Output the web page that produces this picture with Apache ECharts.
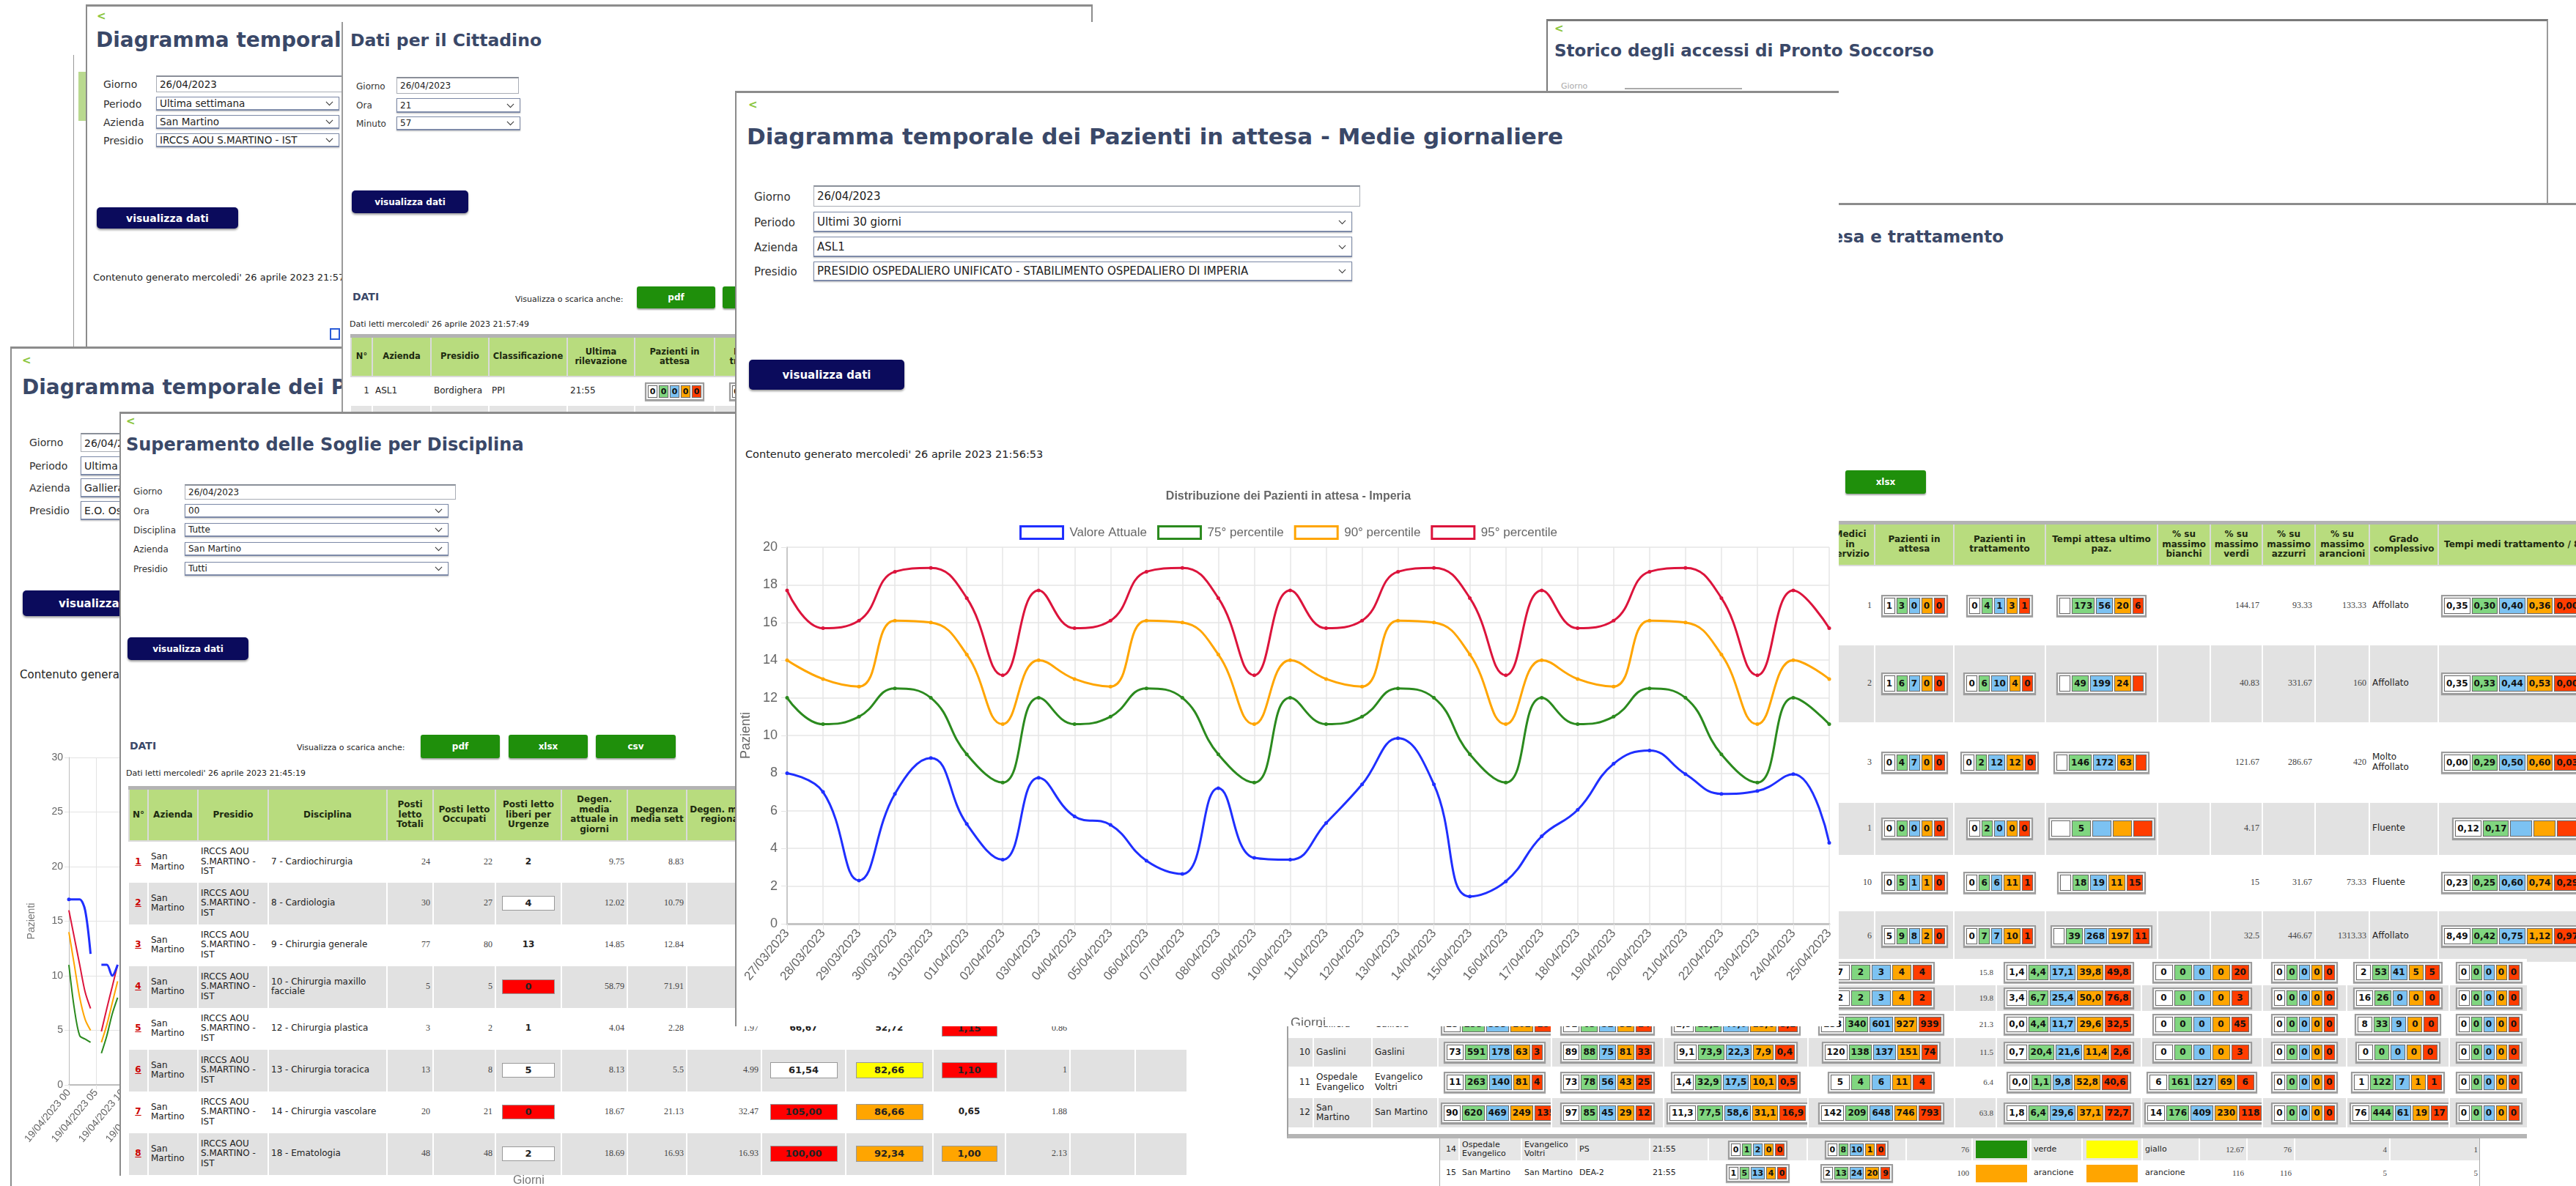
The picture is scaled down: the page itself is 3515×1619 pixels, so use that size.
<!DOCTYPE html>
<html lang="it">
<head>
<meta charset="utf-8">
<title>Diagramma temporale dei Pazienti in attesa</title>
<script src="https://cdn.jsdelivr.net/npm/echarts@6.0.0/dist/echarts.min.js"></script>
<style>
html, body { margin: 0; padding: 0; }
body { width: 3515px; height: 1619px; overflow: hidden; background: #fff; position: relative;
       font-family: "DejaVu Sans", sans-serif; color: #222; }
.pn { position: absolute; background: #fff; box-sizing: border-box; overflow: hidden; }
.ab { position: absolute; white-space: nowrap; }
.ttl { font-weight: bold; color: #3a4868; font-family: "DejaVu Sans", sans-serif; }
.back { color: #8cc63f; font-weight: bold; font-size: 15px; }
.inp { position: absolute; box-sizing: border-box; border: 1px solid #a9adb5; border-top: 2px solid #8a8f99;
       background: #fff; padding-left: 4px; display: flex; align-items: center; white-space: nowrap; overflow: hidden; }
.sel { border: 1px solid #7d8aa8; border-bottom: 2px solid #7d8aa8; box-shadow: 0 1px 2px rgba(0,0,0,.25); }
.chev { position: absolute; right: 9px; top: 50%; width: 6px; height: 6px; border-right: 1.5px solid #333;
        border-bottom: 1.5px solid #333; transform: translateY(-75%) rotate(45deg); }
.btn { position: absolute; box-sizing: border-box; background: #0b0b5c; color: #fff; font-weight: bold; border-radius: 5px;
       display: flex; align-items: center; justify-content: center; box-shadow: 0 2px 3px rgba(0,0,0,.4); white-space: nowrap; }
.gbtn { position: absolute; box-sizing: border-box; background: #1f8f0b; color: #fff; font-weight: bold; border-radius: 3px;
        display: flex; align-items: center; justify-content: center; box-shadow: 0 2px 2px rgba(0,0,0,.35); }
table.tb { position: absolute; border-collapse: collapse; table-layout: fixed; }
table.tb td { padding: 0 3px; overflow: hidden; vertical-align: middle; border-right: 2px solid #fff; line-height: 1.12; }
table.tb td.th { background: #b8dc7e; font-weight: bold; color: #1d2a10; text-align: center; border: 2px solid #dadada; }
table.hd { border-top: 5px solid #b3b3b3; }
.num { font-family: "Liberation Serif", serif; color: #444; }
.grp { display: inline-flex; border: 2px solid #9c9c9c; padding: 2px; background: #f2f2f2; gap: 2px; vertical-align: middle;
       box-shadow: 0 1px 1px rgba(0,0,0,.3); }
.grp span { border: 1px solid #6b6b6b; padding: 0 2px; min-width: 9px; text-align: center; font-weight: bold; color: #111; }
.bx { display: inline-block; border: 1px solid #999; font-weight: bold; text-align: center; vertical-align: middle; }
.rn { color: #c00; font-weight: bold; text-decoration: underline; }
.tB { font-size: 12px; }
.tB td.th { font-size: 11.5px; }
.tB .grp span { font-size: 11px; line-height: 15px; padding: 0 1px; }
.tD { font-size: 12px; }
.tD .num { font-size: 12px; }
.tD .bx { font-size: 13px; }
.tG { font-size: 12px; }
.tG .grp span { font-size: 12px; line-height: 20px; }
.tG .num { font-size: 12px; }
.tH { font-size: 12px; }
.tH .grp span { font-size: 12px; line-height: 19px; }
.tH .num { font-size: 11px; }
.tI { font-size: 11px; }
.tI .grp span { font-size: 11px; line-height: 15px; padding: 0 1px; }
.tI .num { font-size: 11px; }
</style>
</head>
<body>
<script>
// ---------- chart data (main chart) ----------
const chartTitle = 'Distribuzione dei Pazienti in attesa - Imperia';
const seriesNames = ['Valore Attuale', '75° percentile', '90° percentile', '95° percentile'];
const seriesColors = ['#1f2fff', '#2b8a1e', '#ffa500', '#dc143c'];
const dates = ['27/03/2023', '28/03/2023', '29/03/2023', '30/03/2023', '31/03/2023', '01/04/2023', '02/04/2023',
  '03/04/2023', '04/04/2023', '05/04/2023', '06/04/2023', '07/04/2023', '08/04/2023', '09/04/2023', '10/04/2023',
  '11/04/2023', '12/04/2023', '13/04/2023', '14/04/2023', '15/04/2023', '16/04/2023', '17/04/2023', '18/04/2023',
  '19/04/2023', '20/04/2023', '21/04/2023', '22/04/2023', '23/04/2023', '24/04/2023', '25/04/2023'];
const valoreAttuale = [8.0, 7.0, 2.3, 6.9, 8.8, 5.3, 3.4, 7.75, 5.7, 5.25, 3.35, 2.65, 7.2, 3.5, 3.4,
  5.35, 7.4, 9.85, 7.4, 1.45, 2.25, 4.65, 6.05, 8.5, 9.2, 7.95, 6.9, 7.05, 7.95, 4.3];
const perc75 = [12.0, 10.6, 11.0, 12.5, 12.0, 9.0, 7.5, 12.0, 10.6, 11.0, 12.5, 12.0, 9.0, 7.5, 12.0,
  10.6, 11.0, 12.5, 12.0, 9.0, 7.5, 12.0, 10.6, 11.0, 12.5, 12.0, 9.0, 7.5, 12.0, 10.6];
const perc90 = [14.0, 13.0, 12.6, 16.1, 16.0, 14.3, 10.6, 14.0, 13.0, 12.6, 16.1, 16.0, 14.3, 10.6, 14.0,
  13.0, 12.6, 16.1, 16.0, 14.3, 10.6, 14.0, 13.0, 12.6, 16.1, 16.0, 14.3, 10.6, 14.0, 13.0];
const perc95 = [17.7, 15.7, 16.1, 18.7, 18.9, 17.3, 13.2, 17.7, 15.7, 16.1, 18.7, 18.9, 17.3, 13.2, 17.7,
  15.7, 16.1, 18.7, 18.9, 17.3, 13.2, 17.7, 15.7, 16.1, 18.7, 18.9, 17.3, 13.2, 17.7, 15.7];

// ---------- chart data (small chart, left panel) ----------
const oreLabels = ['19/04/2023 00', '19/04/2023 01', '19/04/2023 02', '19/04/2023 03', '19/04/2023 04', '19/04/2023 05',
  '19/04/2023 06', '19/04/2023 07', '19/04/2023 08', '19/04/2023 09', '19/04/2023 10', '19/04/2023 11',
  '19/04/2023 12', '19/04/2023 13', '19/04/2023 14', '19/04/2023 15', '19/04/2023 16', '19/04/2023 17',
  '19/04/2023 18', '19/04/2023 19', '19/04/2023 20', '19/04/2023 21', '19/04/2023 22', '19/04/2023 23'];
const galAttuale = [17, 17, 17, 16, 12, null, 11, 11, 10, 11];
const gal75 = [11, 7, 4.5, 4.2, 3.9, null, 2.9, 4.5, 6.5, 8];
const gal90 = [14, 11, 8, 6, 5, null, 3.9, 5.5, 7.5, 9.5];
const gal95 = [16, 13.5, 11, 8.5, 7, null, 4.9, 7, 9, 11];

// ---------- helpers ----------
const root = document.body; root._x = 0; root._y = 0;

function pnl(x, y, w, h, z, bl, bt, css) {
  const e = document.createElement('div');
  e.className = 'pn';
  Object.assign(e.style, {left: x + 'px', top: y + 'px', width: w + 'px', height: h + 'px', zIndex: z}, css || {});
  e._x = x + bl; e._y = y + bt;
  document.body.appendChild(e);
  return e;
}
function mk(p, cls, x, y, w, h, html, css) {
  const e = document.createElement('div');
  e.className = cls;
  e.style.position = 'absolute';
  e.style.left = (x - p._x) + 'px';
  e.style.top = (y - p._y) + 'px';
  if (w != null) e.style.width = w + 'px';
  if (h != null) e.style.height = h + 'px';
  if (html != null) e.innerHTML = html;
  if (css) Object.assign(e.style, css);
  p.appendChild(e);
  return e;
}
function txt(p, x, yc, s, css) {
  return mk(p, 'ab', x, yc, null, null, s, Object.assign({transform: 'translateY(-50%)'}, css || {}));
}
function ttl(p, x, yc, s, fs) { const e = txt(p, x, yc, s, {fontSize: fs + 'px'}); e.classList.add('ttl'); return e; }
function back(p, x, yc) { const e = txt(p, x, yc, '&lt;'); e.classList.add('back'); return e; }
function inp(p, x1, x2, y1, y2, val, sel, fs) {
  return mk(p, 'inp' + (sel ? ' sel' : ''), x1, y1, x2 - x1, y2 - y1, val + (sel ? '<span class="chev"></span>' : ''), {fontSize: fs + 'px'});
}
function btn(p, x1, x2, y1, y2, s, fs, cls) { return mk(p, cls || 'btn', x1, y1, x2 - x1, y2 - y1, s, {fontSize: fs + 'px'}); }
function table(p, x, y, widths, heights, rows, o) {
  const t = document.createElement('table');
  t.className = 'tb ' + (o.cls || '');
  t.style.left = (x - p._x) + 'px';
  t.style.top = (y - p._y) + 'px';
  t.style.width = widths.reduce((a, b) => a + b, 0) + 'px';
  const cg = document.createElement('colgroup');
  widths.forEach(w => { const c = document.createElement('col'); c.style.width = w + 'px'; cg.appendChild(c); });
  t.appendChild(cg);
  const tb = document.createElement('tbody'); t.appendChild(tb);
  rows.forEach((r, i) => {
    const tr = tb.insertRow();
    tr.style.height = heights[i] + 'px';
    if (o.bgs && o.bgs[i]) tr.style.background = o.bgs[i];
    r.forEach((c, j) => {
      const td = tr.insertCell();
      td.innerHTML = c;
      if (o.head && i === 0) td.className = 'th';
      else { td.style.textAlign = o.al[j]; if (o.cc && o.cc[j]) td.className = o.cc[j]; }
    });
  });
  p.appendChild(t);
  return t;
}
const CELL = ['#ffffff', '#80d680', '#7cc2f2', '#ffa500', '#ff3d00'];
function grp(vals, mw) {
  return '<span class="grp">' + vals.map((v, i) =>
    '<span style="background:' + CELL[i] + (mw ? ';min-width:' + mw + 'px' : '') + '">' + v + '</span>').join('') + '</span>';
}
const BOXC = {w: '#ffffff', r: '#ff0000', y: '#ffff00', o: '#ffa500'};
function cellV(c, w, h) {
  if (c[1] === 'b') return '<b>' + c[0] + '</b>';
  return '<span class="bx" style="width:' + w + 'px;height:' + h + 'px;line-height:' + h + 'px;background:' + BOXC[c[1]] + '">' + c[0] + '</span>';
}
function sq(color) { return '<span class="bx" style="width:70px;height:24px;border:none;background:' + color + '"></span>'; }
const BORD = '3px solid #8c8c8c', BORDL = '2px solid #8c8c8c';

// ---------- panel behind A ----------
const P0 = pnl(100, 75, 40, 400, 1, 1, 0, {borderLeft: '1px solid #999'});
mk(P0, 'ab', 107, 98, 10, 67, '', {background: '#b9d98f'});

// ---------- panel A ----------
const A = pnl(117, 6, 1374, 560, 2, 2, 3, {borderTop: BORD, borderLeft: BORDL, borderRight: BORDL});
back(A, 132, 22);
ttl(A, 131, 54, 'Diagramma temporale dei Pazienti in attesa', 28);
[['Giorno', 115], ['Periodo', 142], ['Azienda', 167], ['Presidio', 192]].forEach(l => txt(A, 141, l[1], l[0], {fontSize: '14px', color: '#333'}));
inp(A, 213, 560, 103, 126, '26/04/2023', false, 13.5);
inp(A, 213, 463, 132, 151, 'Ultima settimana', true, 13.5);
inp(A, 213, 463, 157, 176, 'San Martino', true, 13.5);
inp(A, 213, 463, 182, 201, 'IRCCS AOU S.MARTINO - IST', true, 13.5);
btn(A, 132, 325, 283, 312, 'visualizza dati', 14);
txt(A, 127, 378, "Contenuto generato mercoledi' 26 aprile 2023 21:57:49", {fontSize: '13px'});
mk(A, 'ab', 450, 448, 14, 16, '', {border: '2px solid #2a5bd7', boxSizing: 'border-box'});

// ---------- panel C ----------
const C = pnl(14, 473, 700, 1146, 3, 2, 3, {borderTop: BORD, borderLeft: BORDL});
back(C, 30, 492);
ttl(C, 30, 528, 'Diagramma temporale dei Pazienti in attesa', 28);
[['Giorno', 604], ['Periodo', 636], ['Azienda', 666], ['Presidio', 697]].forEach(l => txt(C, 40, l[1], l[0], {fontSize: '14px', color: '#333'}));
inp(C, 110, 400, 591, 617, '26/04/2023', false, 14);
inp(C, 110, 400, 623, 649, 'Ultima settimana', true, 14);
inp(C, 110, 400, 653, 679, 'Galliera', true, 14);
inp(C, 110, 400, 684, 710, 'E.O. Ospedali Galliera', true, 14);
btn(C, 31, 250, 806, 841, 'visualizza dati', 15);
txt(C, 27, 921, "Contenuto generato mercoledi' 26 aprile 2023", {fontSize: '15px'});
mk(C, 'ab', 16, 1000, 380, 619, '', {}).id = 'leftChart';

// ---------- panel B ----------
const B = pnl(466, 30, 1025, 532, 4, 2, 0, {borderLeft: '2px solid #9a9a9a'});
ttl(B, 478, 55, 'Dati per il Cittadino', 23.5);
[['Giorno', 118], ['Ora', 144], ['Minuto', 169]].forEach(l => txt(B, 486, l[1], l[0], {fontSize: '12px', color: '#333'}));
inp(B, 541, 708, 105, 128, '26/04/2023', false, 12);
inp(B, 541, 710, 134, 154, '21', true, 12);
inp(B, 541, 710, 159, 178, '57', true, 12);
btn(B, 480, 639, 260, 291, 'visualizza dati', 12);
txt(B, 481, 405, 'DATI', {fontSize: '14px', fontWeight: 'bold', color: '#3a4868'});
txt(B, 703, 408, 'Visualizza o scarica anche:', {fontSize: '11px'});
btn(B, 869, 976, 391, 421, 'pdf', 12, 'gbtn');
btn(B, 986, 1093, 391, 421, 'xlsx', 12, 'gbtn');
txt(B, 477, 442, "Dati letti mercoledi' 26 aprile 2023 21:57:49", {fontSize: '11px'});
table(B, 478, 456, [29, 80, 79, 107, 92, 109, 120], [55, 40, 30], [
  ['N°', 'Azienda', 'Presidio', 'Classificazione', 'Ultima rilevazione', 'Pazienti in attesa', 'Pazienti in trattamento'],
  ['1', 'ASL1', 'Bordighera', 'PPI', '21:55', grp([0, 0, 0, 0, 0]), grp([0, 0, 0, 0, 0])],
  ['', '', '', '', '', grp(['', '', '', '', '']), grp(['', '', '', '', ''])]
], {cls: 'tB hd', head: true, al: ['right', 'left', 'left', 'left', 'left', 'center', 'center'], bgs: ['', '#fff', '#e4e4e4']});

// ---------- panel D ----------
const sogliaDisc = ['7 - Cardiochirurgia', '8 - Cardiologia', '9 - Chirurgia generale', '10 - Chirurgia maxillo facciale',
  '12 - Chirurgia plastica', '13 - Chirurgia toracica', '14 - Chirurgia vascolare', '18 - Ematologia'];
const postiTot = [24, 30, 77, 5, 3, 13, 20, 48];
const postiOcc = [22, 27, 80, 5, 2, 8, 21, 48];
const postiLib = [['2', 'b'], ['4', 'w'], ['13', 'b'], ['0', 'r'], ['1', 'b'], ['5', 'w'], ['0', 'r'], ['2', 'w']];
const degAtt = ['9.75', '12.02', '14.85', '58.79', '4.04', '8.13', '18.67', '18.69'];
const degSett = ['8.83', '10.79', '12.84', '71.91', '2.28', '5.5', '21.13', '16.93'];
const degReg = ['', '', '', '', '1.97', '4.99', '32.47', '16.93'];
const sogliaExtra = [null, null, null, null,
  [['66,67', 'b'], ['52,72', 'b'], ['1,15', 'r'], '0.86'],
  [['61,54', 'w'], ['82,66', 'y'], ['1,10', 'r'], '1'],
  [['105,00', 'r'], ['86,66', 'o'], ['0,65', 'b'], '1.88'],
  [['100,00', 'r'], ['92,34', 'o'], ['1,00', 'o'], '2.13']];

const D = pnl(163, 562, 1457, 1043, 5, 2, 3, {borderTop: BORD, borderLeft: BORDL});
back(D, 172, 575);
ttl(D, 172, 607, 'Superamento delle Soglie per Disciplina', 24);
[['Giorno', 671], ['Ora', 698], ['Disciplina', 724], ['Azienda', 750], ['Presidio', 777]].forEach(l => txt(D, 182, l[1], l[0], {fontSize: '12px', color: '#333'}));
inp(D, 252, 622, 661, 682, '26/04/2023', false, 12);
inp(D, 252, 612, 688, 707, '00', true, 12);
inp(D, 252, 612, 714, 733, 'Tutte', true, 12);
inp(D, 252, 612, 740, 759, 'San Martino', true, 12);
inp(D, 252, 612, 767, 786, 'Tutti', true, 12);
btn(D, 174, 339, 870, 901, 'visualizza dati', 12);
txt(D, 177, 1018, 'DATI', {fontSize: '14px', fontWeight: 'bold', color: '#3a4868'});
txt(D, 405, 1020, 'Visualizza o scarica anche:', {fontSize: '11px'});
btn(D, 574, 682, 1003, 1035, 'pdf', 12, 'gbtn');
btn(D, 694, 802, 1003, 1035, 'xlsx', 12, 'gbtn');
btn(D, 813, 922, 1003, 1035, 'csv', 12, 'gbtn');
txt(D, 172, 1055, "Dati letti mercoledi' 26 aprile 2023 21:45:19", {fontSize: '11px'});
const dRows = [['N°', 'Azienda', 'Presidio', 'Disciplina', 'Posti letto Totali', 'Posti letto Occupati',
  'Posti letto liberi per Urgenze', 'Degen. media attuale in giorni', 'Degenza media sett', 'Degen. media regionale', '', '', '', '', '', '']];
for (let i = 0; i < 8; i++) {
  const ex = sogliaExtra[i];
  dRows.push(['<span class="rn">' + (i + 1) + '</span>', 'San Martino', 'IRCCS AOU S.MARTINO - IST', sogliaDisc[i],
    postiTot[i], postiOcc[i], cellV(postiLib[i], 70, 18), degAtt[i], degSett[i], degReg[i],
    ex ? cellV(ex[0], 90, 20) : '', ex ? cellV(ex[1], 90, 20) : '', ex ? cellV(ex[2], 74, 20) : '', ex ? ex[3] : '', '', '']);
}
table(D, 175, 1073, [26, 68, 96, 162, 63, 85, 90, 90, 81, 102, 115, 119, 99, 88, 89, 71],
  [72, 57, 57, 57, 57, 57, 57, 57, 57], dRows,
  {cls: 'tD hd', head: true,
   al: ['center', 'left', 'left', 'left', 'right', 'right', 'center', 'right', 'right', 'right', 'center', 'center', 'center', 'right', 'right', 'right'],
   cc: ['', '', '', '', 'num', 'num', '', 'num', 'num', 'num', '', '', '', 'num', '', ''],
   bgs: ['', '#fff', '#e1e1e1', '#fff', '#e1e1e1', '#fff', '#e1e1e1', '#fff', '#e1e1e1']});
txt(root, 700, 1611, 'Giorni', {fontFamily: '"Liberation Sans", Arial, sans-serif', fontSize: '16px', color: '#777', zIndex: 9});

// ---------- panel F ----------
const F = pnl(2110, 26, 1367, 251, 6, 2, 3, {borderTop: '3px solid #7a7a7a', borderLeft: '2px solid #7a7a7a', borderRight: '2px solid #9a9a9a'});
back(F, 2121, 39);
ttl(F, 2121, 69, 'Storico degli accessi di Pronto Soccorso', 23);
txt(F, 2130, 117, 'Giorno', {fontSize: '11px', color: '#aaa'});
mk(F, 'ab', 2217, 108, 160, 12, '', {borderBottom: '2px solid #aaa'});

// ---------- panel G ----------
const G = pnl(1900, 277, 1615, 1050, 7, 0, 3, {borderTop: BORD});
ttl(G, 2734, 323, 'Pazienti in attesa e trattamento', 23).style.transform = 'translate(-100%,-50%)';
btn(G, 2518, 2628, 642, 674, 'xlsx', 12, 'gbtn');
table(G, 2490, 711, [67, 108, 125, 153, 72, 71, 72, 74, 94, 210], [58, 109, 105, 110, 71, 77, 69], [
  ['Medici in servizio', 'Pazienti in attesa', 'Pazienti in trattamento', 'Tempi attesa ultimo paz.', '% su massimo bianchi',
   '% su massimo verdi', '% su massimo azzurri', '% su massimo arancioni', 'Grado complessivo', 'Tempi medi trattamento / 8h'],
  ['1', grp([1, 3, 0, 0, 0]), grp([0, 4, 1, 3, 1]), grp(['', 173, 56, 20, 6]), '', '144.17', '93.33', '133.33', 'Affollato',
   grp(['0,35', '0,30', '0,40', '0,36', '0,00'])],
  ['2', grp([1, 6, 7, 0, 0]), grp([0, 6, 10, 4, 0]), grp(['', 49, 199, 24, '']), '', '40.83', '331.67', '160', 'Affollato',
   grp(['0,35', '0,33', '0,44', '0,53', '0,00'])],
  ['3', grp([0, 4, 7, 0, 0]), grp([0, 2, 12, 12, 0]), grp(['', 146, 172, 63, '']), '', '121.67', '286.67', '420', 'Molto Affollato',
   grp(['0,00', '0,29', '0,50', '0,60', '0,03'])],
  ['1', grp([0, 0, 0, 0, 0]), grp([0, 2, 0, 0, 0]), grp(['', 5, '', '', ''], 20), '', '4.17', '', '', 'Fluente',
   '&nbsp;&nbsp;&nbsp;&nbsp;' + grp(['0,12', '0,17', '', '', ''], 24)],
  ['10', grp([0, 5, 1, 1, 0]), grp([0, 6, 6, 11, 1]), grp(['', 18, 19, 11, 15]), '', '15', '31.67', '73.33', 'Fluente',
   grp(['0,23', '0,25', '0,60', '0,74', '0,29'])],
  ['6', grp([5, 9, 8, 2, 0]), grp([0, 7, 7, 10, 1]), grp(['', 39, 268, 197, 11]), '', '32.5', '446.67', '1313.33', 'Affollato',
   grp(['8,49', '0,42', '0,75', '1,12', '0,97'])]
], {cls: 'tG hd', head: true,
    al: ['right', 'center', 'center', 'center', 'right', 'right', 'right', 'right', 'left', 'left'],
    cc: ['num', '', '', '', 'num', 'num', 'num', 'num', '', ''],
    bgs: ['', '#fff', '#e2e2e2', '#fff', '#e2e2e2', '#fff', '#e2e2e2']});

// ---------- panel H ----------
const H = pnl(1756, 1309, 1692, 245, 8, 2, 0, {borderLeft: '2px solid #a0a0a0', borderBottom: '6px solid #b5b5b5'});
table(H, 1758, 1309, [34, 80, 90, 155, 153, 197, 200, 57, 198, 165, 115, 140, 108], [36, 35, 37, 39, 43, 40], [
  ['', '', '', '', '', '', grp([7, 2, 3, 4, 4], 20), '15.8', grp(['1,4', '4,4', '17,1', '39,8', '49,8']), grp([0, 0, 0, 0, 20], 18),
   grp([0, 0, 0, 0, 0]), grp([2, 53, 41, 5, 5], 14), grp([0, 0, 0, 0, 0])],
  ['', '', '', '', '', '', grp([2, 2, 3, 4, 2], 20), '19.8', grp(['3,4', '6,7', '25,4', '50,0', '76,8']), grp([0, 0, 0, 0, 3], 18),
   grp([0, 0, 0, 0, 0]), grp([16, 26, 0, 0, 0], 14), grp([0, 0, 0, 0, 0])],
  ['9', 'Galliera', 'Galliera', grp([25, 233, 333, 102, 18]), grp([51, 63, 52, 32, 14]), grp(['2,9', '19,2', '40,0', '15,6', '3,1']),
   grp([233, 340, 601, 927, 939]), '21.3', grp(['0,0', '4,4', '11,7', '29,6', '32,5']), grp([0, 0, 0, 0, 45], 18),
   grp([0, 0, 0, 0, 0]), grp([8, 33, 9, 0, 0], 14), grp([0, 0, 0, 0, 0])],
  ['10', 'Gaslini', 'Gaslini', grp([73, 591, 178, 63, 3]), grp([89, 88, 75, 81, 33]), grp(['9,1', '73,9', '22,3', '7,9', '0,4']),
   grp([120, 138, 137, 151, 74]), '11.5', grp(['0,7', '20,4', '21,6', '11,4', '2,6']), grp([0, 0, 0, 0, 3], 18),
   grp([0, 0, 0, 0, 0]), grp([0, 0, 0, 0, 0], 14), grp([0, 0, 0, 0, 0])],
  ['11', 'Ospedale Evangelico', 'Evangelico Voltri', grp([11, 263, 140, 81, 4]), grp([73, 78, 56, 43, 25]), grp(['1,4', '32,9', '17,5', '10,1', '0,5']),
   grp([5, 4, 6, 11, 4], 20), '6.4', grp(['0,0', '1,1', '9,8', '52,8', '40,6']), grp([6, 161, 127, 69, 6], 18),
   grp([0, 0, 0, 0, 0]), grp([1, 122, 7, 1, 1], 14), grp([0, 0, 0, 0, 0])],
  ['12', 'San Martino', 'San Martino', grp([90, 620, 469, 249, 135]), grp([97, 85, 45, 29, 12]), grp(['11,3', '77,5', '58,6', '31,1', '16,9']),
   grp([142, 209, 648, 746, 793]), '63.8', grp(['1,8', '6,4', '29,6', '37,1', '72,7']), grp([14, 176, 409, 230, 118], 18),
   grp([0, 0, 0, 0, 0]), grp([76, 444, 61, 19, 17], 14), grp([0, 0, 0, 0, 0])]
], {cls: 'tH',
    al: ['right', 'left', 'left', 'center', 'center', 'center', 'center', 'right', 'center', 'center', 'center', 'center', 'center'],
    cc: ['', '', '', '', '', '', '', 'num', '', '', '', '', ''],
    bgs: ['#fff', '#e2e2e2', '#fff', '#e2e2e2', '#fff', '#e2e2e2']});

// ---------- panel I ----------
const I = pnl(1964, 1554, 1420, 65, 9, 1, 0, {borderLeft: '1px solid #aaa', borderRight: '1px solid #aaa'});
table(I, 1965, 1554, [26, 85, 75, 100, 80, 135, 135, 90, 80, 70, 82, 78, 65, 65, 130, 124], [30, 35], [
  ['14', 'Ospedale Evangelico', 'Evangelico Voltri', 'PS', '21:55', grp([0, 1, 2, 0, 0]), grp([0, 8, 10, 1, 0]), '76',
   sq('#1f8f0b'), 'verde', sq('#ffff00'), 'giallo', '12.67', '76', '4', '1'],
  ['15', 'San Martino', 'San Martino', 'DEA-2', '21:55', grp([1, 5, 13, 4, 0]), grp([2, 13, 24, 20, 9]), '100',
   sq('#ffa500'), 'arancione', sq('#ffa500'), 'arancione', '116', '116', '5', '5']
], {cls: 'tI',
    al: ['right', 'left', 'left', 'left', 'left', 'center', 'center', 'right', 'center', 'left', 'center', 'left', 'right', 'right', 'right', 'right'],
    cc: ['', '', '', '', '', '', '', 'num', '', '', '', '', 'num', 'num', 'num', 'num'],
    bgs: ['#e6e6e6', '#fff']});

// ---------- panel E (main) ----------
const E = pnl(1003, 124, 1506, 1277, 10, 2, 3, {borderTop: BORD, borderLeft: BORDL});
back(E, 1021, 143);
ttl(E, 1019, 186, 'Diagramma temporale dei Pazienti in attesa - Medie giornaliere', 31);
[['Giorno', 269], ['Periodo', 304], ['Azienda', 338], ['Presidio', 371]].forEach(l => txt(E, 1029, l[1], l[0], {fontSize: '15px', color: '#333'}));
inp(E, 1110, 1856, 253, 282, '26/04/2023', false, 15);
inp(E, 1110, 1845, 289, 317, 'Ultimi 30 giorni', true, 15);
inp(E, 1110, 1845, 323, 351, 'ASL1', true, 15);
inp(E, 1110, 1845, 357, 384, 'PRESIDIO OSPEDALIERO UNIFICATO - STABILIMENTO OSPEDALIERO DI IMPERIA', true, 15);
btn(E, 1022, 1234, 491, 532, 'visualizza dati', 15);
txt(E, 1017, 620, "Contenuto generato mercoledi' 26 aprile 2023 21:56:53", {fontSize: '14.5px'});
mk(E, 'ab', 1010, 640, 1496, 760, '', {}).id = 'mainChart';

// ---------- main chart ----------
const FONT = '"Liberation Sans", Arial, sans-serif';
const mainChart = echarts.init(document.getElementById('mainChart'));
const mainData = [valoreAttuale, perc75, perc90, perc95];
mainChart.setOption({
  animation: false,
  textStyle: {fontFamily: FONT},
  title: {text: chartTitle, left: 'center', top: 25,
          textStyle: {fontSize: 16, fontWeight: 'bold', color: '#666', fontFamily: FONT}},
  legend: {
    top: 72, left: 'center', itemWidth: 58, itemHeight: 17, itemGap: 14,
    textStyle: {fontSize: 17, color: '#666', fontFamily: FONT, padding: [0, 0, 0, 4]},
    data: seriesNames.map((n, i) => ({name: n, icon: 'rect',
      itemStyle: {color: '#fff', borderColor: seriesColors[i], borderWidth: 3}}))
  },
  grid: {left: 64, right: 10, top: 107, bottom: 139, containLabel: false, outerBoundsMode: 'none'},
  xAxis: {
    type: 'category', data: dates, boundaryGap: false,
    name: 'Giorni', nameLocation: 'middle', nameGap: 127,
    nameTextStyle: {fontSize: 18, color: '#666', fontFamily: FONT},
    axisLine: {show: true, lineStyle: {color: '#c4c4c4', width: 3}},
    axisTick: {show: true, length: 8, alignWithLabel: true, lineStyle: {color: '#e3e3e3'}},
    axisLabel: {rotate: 50, interval: 0, fontSize: 17, color: '#666', margin: 10, fontFamily: FONT},
    splitLine: {show: true, lineStyle: {color: '#e6e6e6', width: 1.5}}
  },
  yAxis: {
    type: 'value', min: 0, max: 20, interval: 2,
    name: 'Pazienti', nameLocation: 'middle', nameGap: 47, nameRotate: 90,
    nameTextStyle: {fontSize: 18, color: '#666', fontFamily: FONT},
    axisLine: {show: true, lineStyle: {color: '#bdbdbd', width: 1.5}},
    axisTick: {show: true, length: 8, lineStyle: {color: '#e3e3e3'}},
    axisLabel: {fontSize: 18, color: '#666', margin: 13, fontFamily: FONT},
    splitLine: {show: true, lineStyle: {color: '#e6e6e6', width: 1.5}}
  },
  series: [3, 2, 1, 0].map(i => ({
    name: seriesNames[i], type: 'line', data: mainData[i], smooth: 0.45,
    symbol: 'circle', symbolSize: 5, showSymbol: true,
    lineStyle: {color: seriesColors[i], width: 3},
    itemStyle: {color: seriesColors[i]},
    z: 10 - i
  }))
});

// ---------- small chart (left panel) ----------
const leftChart = echarts.init(document.getElementById('leftChart'));
const leftData = [galAttuale, gal75, gal90, gal95];
leftChart.setOption({
  animation: false,
  textStyle: {fontFamily: FONT},
  grid: {left: 78, top: 34, right: 132, bottom: 138, containLabel: false, outerBoundsMode: 'none'},
  xAxis: {
    type: 'category', data: oreLabels, boundaryGap: false,
    axisLine: {show: true, lineStyle: {color: '#bdbdbd', width: 2}},
    axisTick: {show: true, interval: 4, length: 6, lineStyle: {color: '#e3e3e3'}},
    axisLabel: {rotate: 50, interval: 4, fontSize: 14, color: '#666', fontFamily: FONT},
    splitLine: {show: true, interval: 4, lineStyle: {color: '#e3e3e3'}}
  },
  yAxis: {
    type: 'value', min: 0, max: 30, interval: 5,
    name: 'Pazienti', nameLocation: 'middle', nameGap: 44, nameRotate: 90,
    nameTextStyle: {fontSize: 14, color: '#777', fontFamily: FONT},
    axisLine: {show: true, lineStyle: {color: '#bdbdbd'}},
    axisTick: {show: true, length: 6, lineStyle: {color: '#e3e3e3'}},
    axisLabel: {fontSize: 14, color: '#666', fontFamily: FONT},
    splitLine: {show: true, lineStyle: {color: '#e3e3e3'}}
  },
  series: [3, 2, 1, 0].map(i => ({
    name: seriesNames[i], type: 'line', data: leftData[i], smooth: 0.3,
    symbol: 'circle', symbolSize: i === 0 ? 5 : 0, showSymbol: i === 0,
    lineStyle: {color: seriesColors[i], width: i === 0 ? 3 : 2},
    itemStyle: {color: seriesColors[i]}
  }))
});
</script>
</body>
</html>
